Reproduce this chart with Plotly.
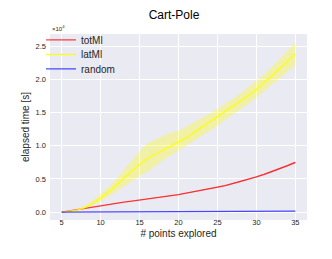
import plotly.graph_objects as go

x_points = list(range(5, 36))

tot_mean = [0.0, 0.02, 0.04, 0.06, 0.08, 0.10, 0.12, 0.135, 0.15, 0.165, 0.18, 0.195, 0.21, 0.225,
            0.245, 0.265, 0.285, 0.305, 0.325, 0.35, 0.375, 0.40, 0.43, 0.46, 0.495, 0.53, 0.57,
            0.61, 0.655, 0.70, 0.75]
tot_upper = [0.0, 0.021, 0.041, 0.061, 0.081, 0.102, 0.122, 0.137, 0.152, 0.167, 0.183, 0.198, 0.213,
             0.228, 0.249, 0.269, 0.29, 0.31, 0.33, 0.356, 0.381, 0.407, 0.437, 0.468, 0.503, 0.539,
             0.58, 0.621, 0.667, 0.713, 0.765]
tot_lower = [0.0, 0.019, 0.039, 0.059, 0.079, 0.098, 0.118, 0.133, 0.148, 0.163, 0.177, 0.192, 0.207,
             0.222, 0.241, 0.261, 0.28, 0.3, 0.32, 0.344, 0.369, 0.393, 0.423, 0.452, 0.487, 0.521,
             0.56, 0.599, 0.643, 0.687, 0.735]

lat_mean = [0.0, 0.01, 0.03, 0.07, 0.13, 0.21, 0.30, 0.40, 0.51, 0.62, 0.72, 0.81, 0.87, 0.93, 0.99,
            1.05, 1.12, 1.20, 1.28, 1.36, 1.43, 1.51, 1.59, 1.68, 1.76, 1.85, 1.95, 2.06, 2.17, 2.28, 2.39]
lat_upper = [0.0, 0.015, 0.045, 0.09, 0.17, 0.27, 0.38, 0.50, 0.64, 0.78, 0.92, 1.04, 1.10, 1.15, 1.20,
             1.23, 1.29, 1.35, 1.42, 1.49, 1.56, 1.63, 1.71, 1.80, 1.89, 1.98, 2.08, 2.19, 2.31, 2.44, 2.57]
lat_lower = [0.0, 0.005, 0.02, 0.05, 0.10, 0.16, 0.23, 0.31, 0.39, 0.47, 0.54, 0.61, 0.70, 0.78, 0.86,
             0.93, 1.00, 1.07, 1.15, 1.23, 1.30, 1.39, 1.47, 1.56, 1.64, 1.73, 1.83, 1.93, 2.03, 2.12, 2.22]

rand_mean = [0.0, 0.0005, 0.001, 0.0015, 0.002, 0.0025, 0.003, 0.0035, 0.004, 0.0045, 0.005, 0.0055,
             0.006, 0.0065, 0.007, 0.0075, 0.008, 0.0085, 0.009, 0.0095, 0.010, 0.0105, 0.011, 0.0115,
             0.012, 0.0125, 0.013, 0.0135, 0.014, 0.0145, 0.015]

x_ticks = [5, 10, 15, 20, 25, 30, 35]
y_ticks = [0.0, 0.5, 1.0, 1.5, 2.0, 2.5]

FONT = "Liberation Sans, Arial, sans-serif"
TXT = "#262626"

fig = go.Figure()


def band(lower, upper, fillcolor):
    fig.add_trace(go.Scatter(x=x_points, y=upper, mode="lines", line=dict(width=0),
                             showlegend=False, hoverinfo="skip"))
    fig.add_trace(go.Scatter(x=x_points, y=lower, mode="lines", line=dict(width=0),
                             fill="tonexty", fillcolor=fillcolor, showlegend=False, hoverinfo="skip"))


fig.add_trace(go.Scatter(x=x_points, y=tot_mean, mode="lines", name="totMl", legend="legend",
                         line=dict(color="rgba(255,0,0,0.75)", width=1.3)))
band(tot_lower, tot_upper, "rgba(255,0,0,0.3)")
fig.add_trace(go.Scatter(x=x_points, y=lat_mean, mode="lines", name="latMl", legend="legend2",
                         line=dict(color="rgba(255,255,0,0.9)", width=1.3)))
band(lat_lower, lat_upper, "rgba(255,255,0,0.3)")
fig.add_trace(go.Scatter(x=x_points, y=rand_mean, mode="lines", name="random", legend="legend3",
                         line=dict(color="rgba(0,0,255,0.7)", width=1.3)))

leg_x = -0.035
leg_common = dict(x=leg_x, xanchor="left", yanchor="middle", bgcolor="rgba(0,0,0,0)",
                  font=dict(size=10, color=TXT), itemwidth=30)

fig.update_layout(
    width=332, height=259,
    margin=dict(l=42, r=33, t=26, b=47),
    paper_bgcolor="white",
    plot_bgcolor="#EAEAF2",
    font=dict(family=FONT, color=TXT, size=10),
    title=dict(text="Cart-Pole", x=0.5, xref="container", y=1.0, yref="container",
               yanchor="top", pad=dict(t=3),
               font=dict(size=12, color="#000000")),
    legend=dict(y=0.968, **leg_common),
    legend2=dict(y=0.890, **leg_common),
    legend3=dict(y=0.812, **leg_common),
    showlegend=True,
)
fig.update_xaxes(range=[3.5, 36.5], tickvals=x_ticks, ticktext=[str(v) for v in x_ticks],
                 showgrid=True, gridcolor="white", gridwidth=1, zeroline=False,
                 showline=False, ticks="", ticklen=0, ticklabelstandoff=-4,
                 tickfont=dict(size=7.5, color=TXT),
                 title=dict(text="# points explored", font=dict(size=10, color=TXT), standoff=4))
fig.update_yaxes(range=[-0.12, 2.69], tickvals=y_ticks, ticktext=["%.1f" % v for v in y_ticks],
                 showgrid=True, gridcolor="white", gridwidth=1, zeroline=False,
                 showline=False, ticks="", ticklen=0, ticklabelstandoff=3,
                 tickfont=dict(size=7.5, color=TXT),
                 title=dict(text="elapsed time [s]", font=dict(size=10, color=TXT), standoff=4))
fig.add_annotation(text="×10<sup>4</sup>", xref="paper", yref="paper", x=0.0, y=1.0,
                   xanchor="left", yanchor="bottom", showarrow=False,
                   font=dict(size=6, color=TXT))

fig.write_html("out.html")
